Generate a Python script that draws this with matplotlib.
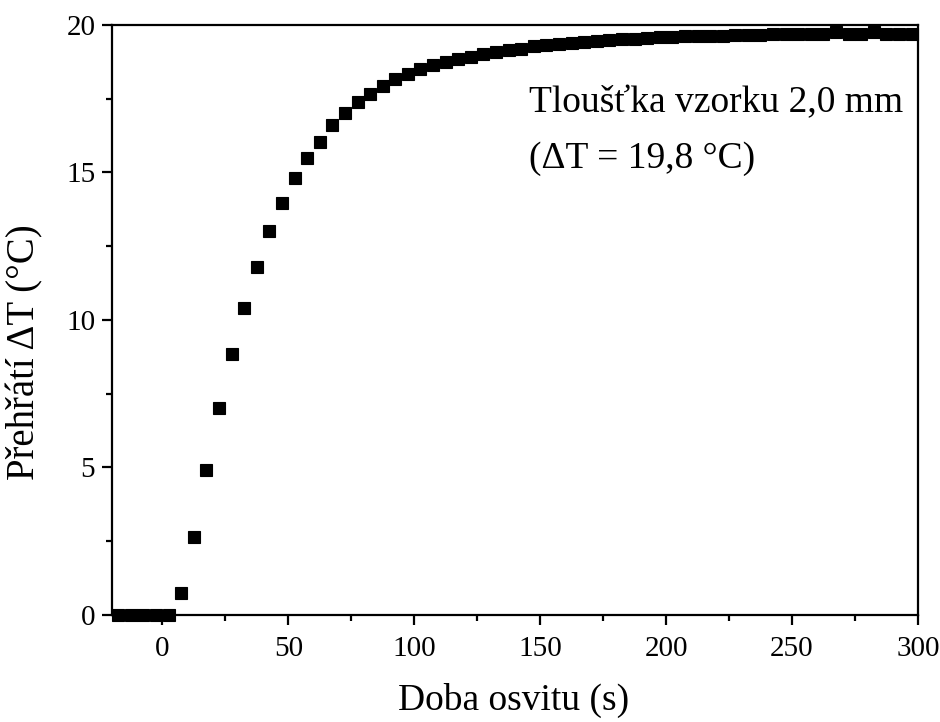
import matplotlib
matplotlib.use("Agg")
import matplotlib.pyplot as plt
from matplotlib.ticker import MultipleLocator

plt.rcParams['font.family'] = ['Liberation Serif', 'DejaVu Serif']

time_s = [-17.5, -12.5, -7.5, -2.5, 2.5, 7.5, 12.5, 17.5, 22.5, 27.5, 32.5, 37.5,
          42.5, 47.5, 52.5, 57.5, 62.5, 67.5, 72.5, 77.5, 82.5, 87.5, 92.5, 97.5,
          102.5, 107.5, 112.5, 117.5, 122.5, 127.5, 132.5, 137.5, 142.5, 147.5,
          152.5, 157.5, 162.5, 167.5, 172.5, 177.5, 182.5, 187.5, 192.5, 197.5,
          202.5, 207.5, 212.5, 217.5, 222.5, 227.5, 232.5, 237.5, 242.5, 247.5,
          252.5, 257.5, 262.5, 267.5, 272.5, 277.5, 282.5, 287.5, 292.5, 297.5]
delta_T = [0.0, 0.0, 0.0, 0.0, 0.0, 0.75, 2.65, 4.9, 7.0, 8.85, 10.4, 11.8,
           13.0, 13.95, 14.8, 15.5, 16.05, 16.6, 17.0, 17.4, 17.67, 17.94, 18.16, 18.33,
           18.5, 18.64, 18.76, 18.84, 18.93, 19.0, 19.08, 19.14, 19.2, 19.28,
           19.32, 19.36, 19.4, 19.43, 19.46, 19.49, 19.52, 19.54, 19.56, 19.58,
           19.6, 19.61, 19.62, 19.63, 19.64, 19.65, 19.66, 19.67, 19.68, 19.68,
           19.69, 19.69, 19.70, 19.77, 19.70, 19.70, 19.77, 19.70, 19.71, 19.71]

fig = plt.figure(figsize=(9.4, 7.22), dpi=100)
ax = fig.add_axes([0.1191, 0.1482, 0.8574, 0.8172])

ax.plot(time_s, delta_T, linestyle='none', marker='s', markersize=9,
        color='black', markeredgecolor='black', markeredgewidth=0.8,
        clip_on=False, zorder=3)

ax.set_xlim(-20, 300)
ax.set_ylim(0, 20)
ax.xaxis.set_major_locator(MultipleLocator(50))
ax.xaxis.set_minor_locator(MultipleLocator(25))
ax.yaxis.set_major_locator(MultipleLocator(5))
ax.yaxis.set_minor_locator(MultipleLocator(2.5))

for s in ax.spines.values():
    s.set_linewidth(1.6)
ax.tick_params(which='major', direction='out', length=7, width=1.6, labelsize=21)
ax.tick_params(axis='x', which='major', pad=8)
ax.tick_params(axis='y', which='major', pad=5)
ax.tick_params(which='minor', direction='out', length=4.5, width=1.6)

ax.set_xlabel('Doba osvitu (s)', fontsize=27, va='top')
ax.xaxis.set_label_coords(0.498, -0.115)
ax.set_ylabel('Přehřátí ΔT (°C)', fontsize=28)
ax.yaxis.set_label_coords(-0.0855, 0.446)

ax.text(0.517, 0.852, 'Tloušťka vzorku 2,0 mm', transform=ax.transAxes,
        fontsize=27, va='baseline', ha='left')
ax.text(0.517, 0.758, '(ΔT = 19,8 °C)', transform=ax.transAxes,
        fontsize=27, va='baseline', ha='left')

fig.savefig('out.png', dpi=100)
